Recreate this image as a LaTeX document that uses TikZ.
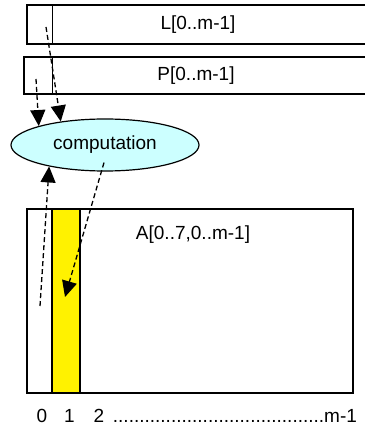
\documentclass[tikz,border=0pt]{standalone}
\usepackage{fontspec}
\setmainfont{Liberation Sans}
\usepackage{xcolor}
\usetikzlibrary{shapes.geometric, arrows.meta, positioning, calc}

\definecolor{compcyan}{RGB}{204,255,255}

\begin{document}
\begin{tikzpicture}[
  x=1pt, y=-1pt,
  font=\fontsize{19}{22}\selectfont,
  %% box styles
  vecbox/.style={
    rectangle, draw=black, line width=1.2pt,
    inner sep=0pt, minimum height=38pt},
  matbox/.style={
    rectangle, draw=black, line width=1.2pt,
    inner sep=0pt, minimum width=326pt, minimum height=184pt},
  colbox/.style={
    rectangle, draw=black, line width=1.2pt, fill=yellow,
    inner sep=0pt, minimum width=28pt, minimum height=184pt},
  comp/.style={
    ellipse, draw=black, line width=1.2pt, fill=compcyan,
    minimum width=188pt, minimum height=52pt, inner sep=0pt},
  divline/.style={line width=1.2pt},
  arr/.style={-{Triangle[length=16pt, width=15pt]}, line width=1.3pt,
    dash pattern=on 5pt off 3pt},
  lbl/.style={inner sep=0pt, anchor=base}
]
\useasboundingbox (0,0) rectangle (364,427);

%% ── Row 0: L vector ─────────────────────────────────────────────────────
\node[vecbox, minimum width=342pt, minimum height=39pt] (Lvec) at (198,24.5) {L[0..m-1]};
\draw[divline] ($(Lvec.north west)+(26,0)$) -- ($(Lvec.south west)+(26,0)$);

%% ── Row 1: P vector ─────────────────────────────────────────────────────
\node[vecbox, minimum width=344pt, minimum height=37pt] (Pvec) at (196,75.5) {P[0..m-1]};
\draw[divline] ($(Pvec.north west)+(29,0)$) -- ($(Pvec.south west)+(29,0)$);

%% ── Row 2: computation ──────────────────────────────────────────────────
\node[comp] (calc) at (105,145) {computation};

%% ── Row 3: A matrix with current column ─────────────────────────────────
\node[matbox] (Amat) at (190,301) {};
\node[colbox, anchor=north west] (col1) at ($(Amat.north west)+(25,0)$) {};
\node[lbl] (Alab) at (193,239) {A[0..7,0..m-1]};

%% column indices
\node[lbl] (idx0) at (42,422) {0};
\node[lbl] (idx1) at (69.5,422) {1};
\node[lbl] (idx2) at (99,422) {2};
\node[lbl, anchor=base east] (idxrest) at (357,422) {........................................m-1};

%% ──────────────────────── Arrows ─────────────────────────────────────────
\coordinate (Lsrc) at (46,27);
\coordinate (Psrc) at (36,79);
\coordinate (Asrc) at (40,306);
\coordinate (Adst) at (65,297);

\draw[arr] (Lsrc) -- (calc.152);
\draw[arr] (Psrc) -- (calc.164);
\draw[arr] (Asrc) -- (calc.201);
\draw[arr] ($(calc.south)+(-1,-9)$) -- (Adst);

\end{tikzpicture}
\end{document}
